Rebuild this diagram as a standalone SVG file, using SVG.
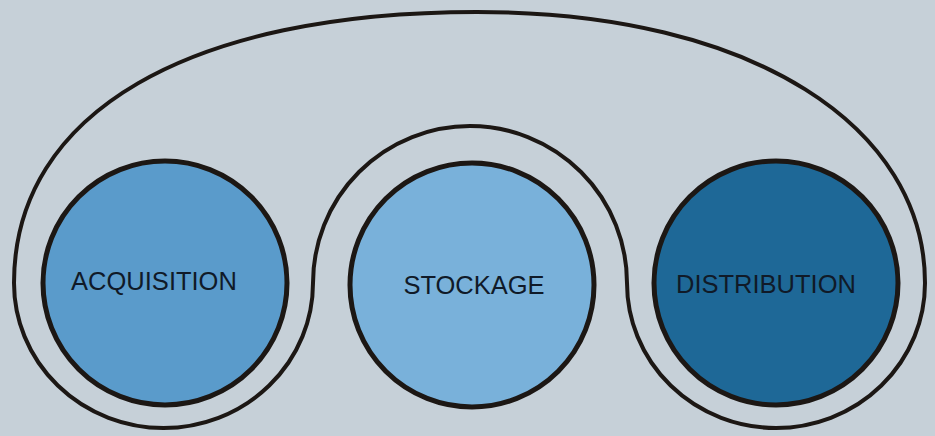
<svg xmlns="http://www.w3.org/2000/svg" width="935" height="436" viewBox="0 0 935 436">
<style>
.bg{fill:#c6d0d8}
.outline{fill:none;stroke:#1c1714;stroke-width:4;stroke-linejoin:round}
.node circle{stroke:#1c1714;stroke-width:5}
.node text{font-family:"Liberation Sans",Arial,sans-serif;font-size:25.5px;fill:#101a28;text-anchor:middle}
</style>
<rect class="bg" x="0" y="0" width="935" height="436"/>
<g id="connectors">
<path class="outline" d="M14,283 C14,112 190,12 477,12 C755,12 925,128 925,283 A149,145 0 0 1 627,283 A157,157 0 0 0 313,283 A149.5,145 0 0 1 14,283 Z"/>
</g>
<g id="acquisition" class="node">
<circle cx="165" cy="283" r="122" fill="#5a9bcb"/>
<text x="154" y="290">ACQUISITION</text>
</g>
<g id="stockage" class="node">
<circle cx="472" cy="285" r="122" fill="#79b1da"/>
<text x="474" y="294">STOCKAGE</text>
</g>
<g id="distribution" class="node">
<circle cx="776" cy="283" r="122" fill="#1e6897"/>
<text x="766" y="293">DISTRIBUTION</text>
</g>
</svg>
